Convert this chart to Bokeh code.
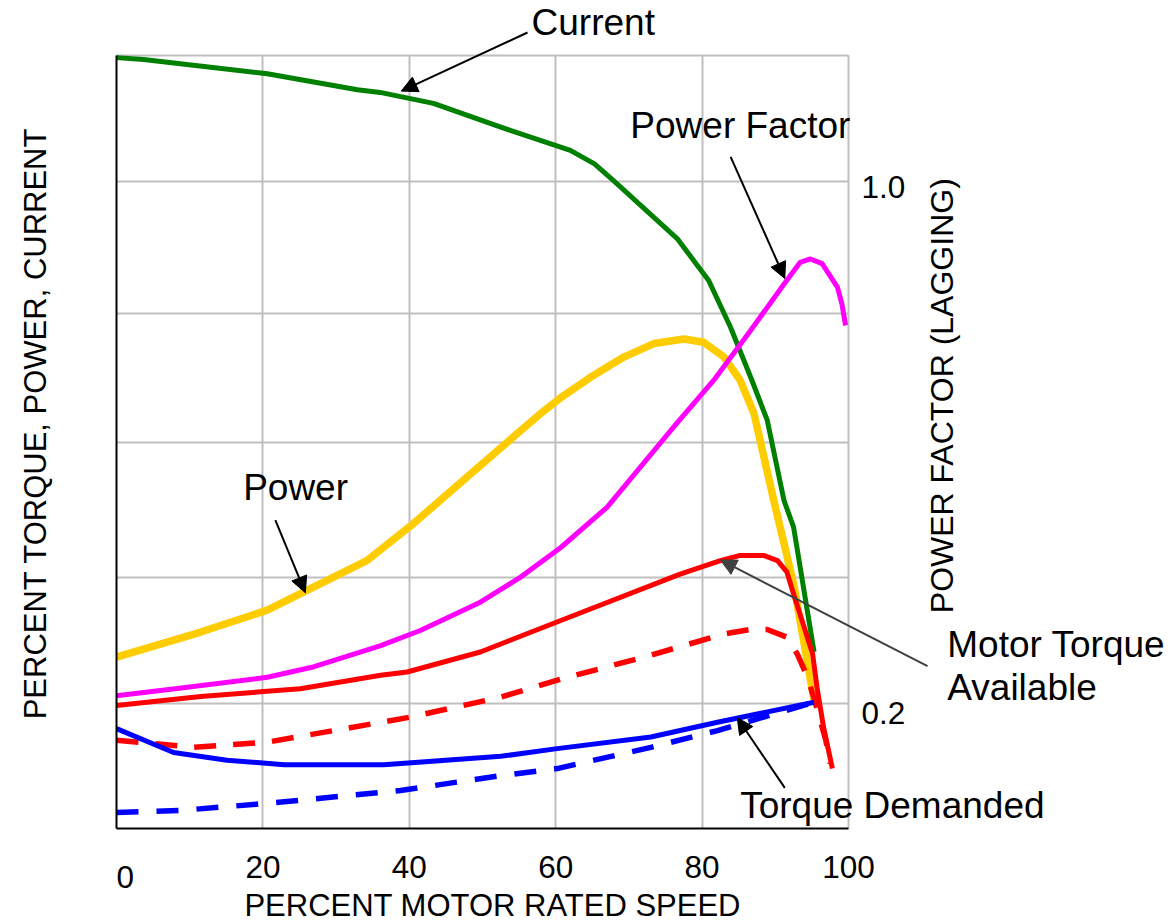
import math
from bokeh.plotting import figure
from bokeh.models import (Range1d, LinearAxis, FixedTicker, Label, Arrow,
                          NormalHead, NumeralTickFormatter)
from bokeh.embed import file_html
from bokeh.resources import INLINE

FONT = "Liberation Sans"

# ---------------- data ----------------
# x = percent motor rated speed, y = percent (left axis) or power factor (right axis)
current_speed = [0, 3.7, 20.6, 32.9, 36.0, 43.3, 52.5, 62.0, 65.3, 67.9, 76.6, 80.9, 83.9, 86.8, 88.9, 91.2, 92.5, 95.3]
current_pct = [119.7, 119.4, 117.2, 114.7, 114.3, 112.6, 108.9, 105.3, 103.2, 100.6, 91.6, 85.1, 77.8, 69.6, 63.4, 50.9, 46.8, 27.4]

power_speed = [0, 11.5, 20.6, 34.2, 40.2, 53.4, 57.9, 60.7, 64.8, 69.3, 73.4, 77.5, 80.2, 83.0, 85.2, 87.1, 89.8, 92.5, 95.3]
power_pct = [26.6, 30.5, 33.9, 41.6, 47.0, 60.0, 64.4, 66.9, 70.1, 73.2, 75.3, 76.0, 75.5, 73.2, 69.6, 64.4, 50.9, 38.0, 19.9]

pf_speed = [0, 8.3, 20.6, 27.0, 36.1, 41.5, 49.7, 55.2, 60.7, 67.0, 76.5, 81.6, 86.6, 91.2, 93.4, 94.8, 96.4, 98.5, 99.1, 99.6]
pf_value = [0.227, 0.238, 0.255, 0.271, 0.303, 0.326, 0.369, 0.407, 0.452, 0.513, 0.640, 0.706, 0.781, 0.852, 0.885, 0.890, 0.883, 0.847, 0.822, 0.789]

torque_avail_speed = [0, 11.5, 25.1, 36.1, 39.7, 49.7, 60.7, 77.0, 82.5, 85.2, 88.4, 90.3, 91.6, 92.5, 95.1, 95.7, 96.6, 97.8]
torque_avail_pct = [19.1, 20.5, 21.7, 23.8, 24.3, 27.4, 32.3, 39.5, 41.6, 42.4, 42.4, 41.6, 39.8, 36.4, 27.1, 21.9, 15.7, 9.3]

torque_avail2_speed = [0, 10.6, 20.6, 40.2, 52.5, 60.7, 73.0, 77.5, 83.0, 86.6, 88.9, 91.6, 93.0, 94.4, 95.5, 96.9, 97.5]
torque_avail2_pct = [13.7, 12.6, 13.4, 17.3, 20.4, 23.2, 26.9, 28.4, 30.2, 30.9, 30.9, 29.7, 27.1, 23.5, 19.4, 13.7, 10.1]

torque_dem_speed = [0, 7.8, 15.1, 22.9, 36.5, 52.5, 60.2, 73.0, 82.1, 95.3]
torque_dem_pct = [15.5, 11.8, 10.6, 9.9, 9.9, 11.2, 12.4, 14.2, 16.5, 19.6]

torque_dem2_speed = [0, 8.7, 20.6, 38.8, 52.5, 60.2, 73.0, 82.1, 95.3]
torque_dem2_pct = [2.5, 2.8, 3.9, 5.9, 8.2, 9.3, 12.6, 15.2, 19.6]

x_ticks = [20, 40, 60, 80, 100]
y_grid_levels = [19.4, 38.9, 60, 80, 100.4, 120]
pf_ticks = [0.2, 1.0]

# annotations: (text, x, y)
annotation_texts = [
    ("Current", 56.7, 125.16),
    ("Power Factor", 70.2, 109.12),
    ("Power", 17.3, 52.95),
    ("Motor Torque", 113.5, 28.62),
    ("Available", 113.5, 21.9),
    ("Torque Demanded", 85.2, 3.53),
]
# arrows: (x_start, y_start, x_end, y_end, color)
annotation_arrows = [
    (56.15, 123.6, 38.9, 114.5, "black"),
    (83.9, 104.3, 91.3, 85.4, "black"),
    (21.7, 47.9, 25.8, 36.6, "black"),
    (110.8, 25.2, 82.5, 41.7, "#404040"),
    (91.3, 6.3, 84.8, 17.2, "black"),
]

# ---------------- figure ----------------
# The frame covers the whole canvas; the chart area (0..100 x 0..120) sits inside it,
# with the axes pinned to its edges, so that outside annotations are not clipped.
p = figure(width=1168, height=922,
           x_range=Range1d(-15.85, 143.72), y_range=Range1d(-14.60, 128.57),
           min_border=0, min_border_left=0, min_border_right=0,
           min_border_top=0, min_border_bottom=0,
           toolbar_location=None, output_backend="svg", tools="")
p.extra_y_ranges = {"pf": Range1d(-0.1173, 1.2824)}
p.outline_line_color = None
p.background_fill_color = "white"
p.border_fill_color = "white"

# grids
p.xgrid.ticker = FixedTicker(ticks=x_ticks)
p.xgrid.bounds = (-1, 101)
p.xgrid.cross_bounds = (0, 120)
p.ygrid.ticker = FixedTicker(ticks=y_grid_levels)
p.ygrid.bounds = (-1, 121)
p.ygrid.cross_bounds = (0, 100)
for g in (p.xgrid, p.ygrid):
    g.grid_line_color = "#BFBFBF"
    g.grid_line_width = 2

# bottom axis
xa = p.xaxis[0]
xa.fixed_location = 0
xa.bounds = (0, 100)
xa.ticker = FixedTicker(ticks=x_ticks)
xa.axis_line_color = "black"
xa.axis_line_width = 2
xa.major_tick_out = 0
xa.major_tick_in = 0
xa.minor_tick_out = 0
xa.minor_tick_in = 0
xa.major_label_text_font = FONT
xa.major_label_text_font_size = "31.5px"
xa.major_label_text_color = "black"
xa.major_label_standoff = 28

# left axis (no labels)
ya = p.yaxis[0]
ya.fixed_location = 0
ya.bounds = (0, 120)
ya.ticker = FixedTicker(ticks=[])
ya.axis_line_color = "black"
ya.axis_line_width = 2
ya.major_tick_out = 0
ya.major_tick_in = 0
ya.minor_tick_out = 0
ya.minor_tick_in = 0
ya.major_label_text_font_size = "0px"

# right axis (power factor)
ra = LinearAxis(y_range_name="pf", ticker=FixedTicker(ticks=pf_ticks),
                formatter=NumeralTickFormatter(format="0.0"), fixed_location=100)
ra.axis_line_color = None
ra.major_tick_out = 0
ra.major_tick_in = 0
ra.minor_tick_out = 0
ra.minor_tick_in = 0
ra.major_label_text_font = FONT
ra.major_label_text_font_size = "31.5px"
ra.major_label_text_color = "black"
ra.major_label_standoff = 13
p.add_layout(ra, "right")

# ---------------- curves ----------------
p.line(power_speed, power_pct, line_color="#FFCC00", line_width=7.5, line_join="round")
p.line(current_speed, current_pct, line_color="#008000", line_width=5, line_join="round")
p.line(pf_speed, pf_value, y_range_name="pf", line_color="#FF00FF", line_width=5, line_join="round")
p.line(torque_avail2_speed, torque_avail2_pct, line_color="#FF0000", line_width=5.5,
       line_dash="22 17", line_join="round")
p.line(torque_avail_speed, torque_avail_pct, line_color="#FF0000", line_width=5, line_join="round")
p.line(torque_dem2_speed, torque_dem2_pct, line_color="#0000FF", line_width=5.5,
       line_dash="22 18", line_join="round")
p.line(torque_dem_speed, torque_dem_pct, line_color="#0000FF", line_width=5, line_join="round")

# ---------------- annotations ----------------
for xs, ys, xe, ye, col in annotation_arrows:
    p.add_layout(Arrow(end=NormalHead(size=16, fill_color=col, line_color=col, line_width=1),
                       x_start=xs, y_start=ys, x_end=xe, y_end=ye,
                       line_color=col, line_width=2))

for txt, tx, ty in annotation_texts:
    p.add_layout(Label(x=tx, y=ty, text=txt, text_font=FONT, text_font_size="37px",
                       text_color="black", text_align="left", text_baseline="alphabetic"))

# tick label "0" (drawn lower than the others in the original)
p.add_layout(Label(x=0, y=-7.61, text="0", text_font=FONT, text_font_size="31.5px",
                   text_color="black", text_align="left", text_baseline="alphabetic"))

# axis titles
p.add_layout(Label(x=51.4, y=-11.96, text="PERCENT MOTOR RATED SPEED", text_font=FONT,
                   text_font_size="31px", text_color="black", text_align="center",
                   text_baseline="alphabetic"))
p.add_layout(Label(x=-11.07, y=62.9, text="PERCENT TORQUE, POWER, CURRENT", text_font=FONT,
                   text_font_size="31px", text_color="black", text_align="center",
                   text_baseline="middle", angle=math.pi / 2))
p.add_layout(Label(x=112.8, y=67.2, text="POWER FACTOR (LAGGING)", text_font=FONT,
                   text_font_size="32px", text_color="black", text_align="center",
                   text_baseline="middle", angle=math.pi / 2))

open("out.html", "w").write(file_html(p, INLINE))
